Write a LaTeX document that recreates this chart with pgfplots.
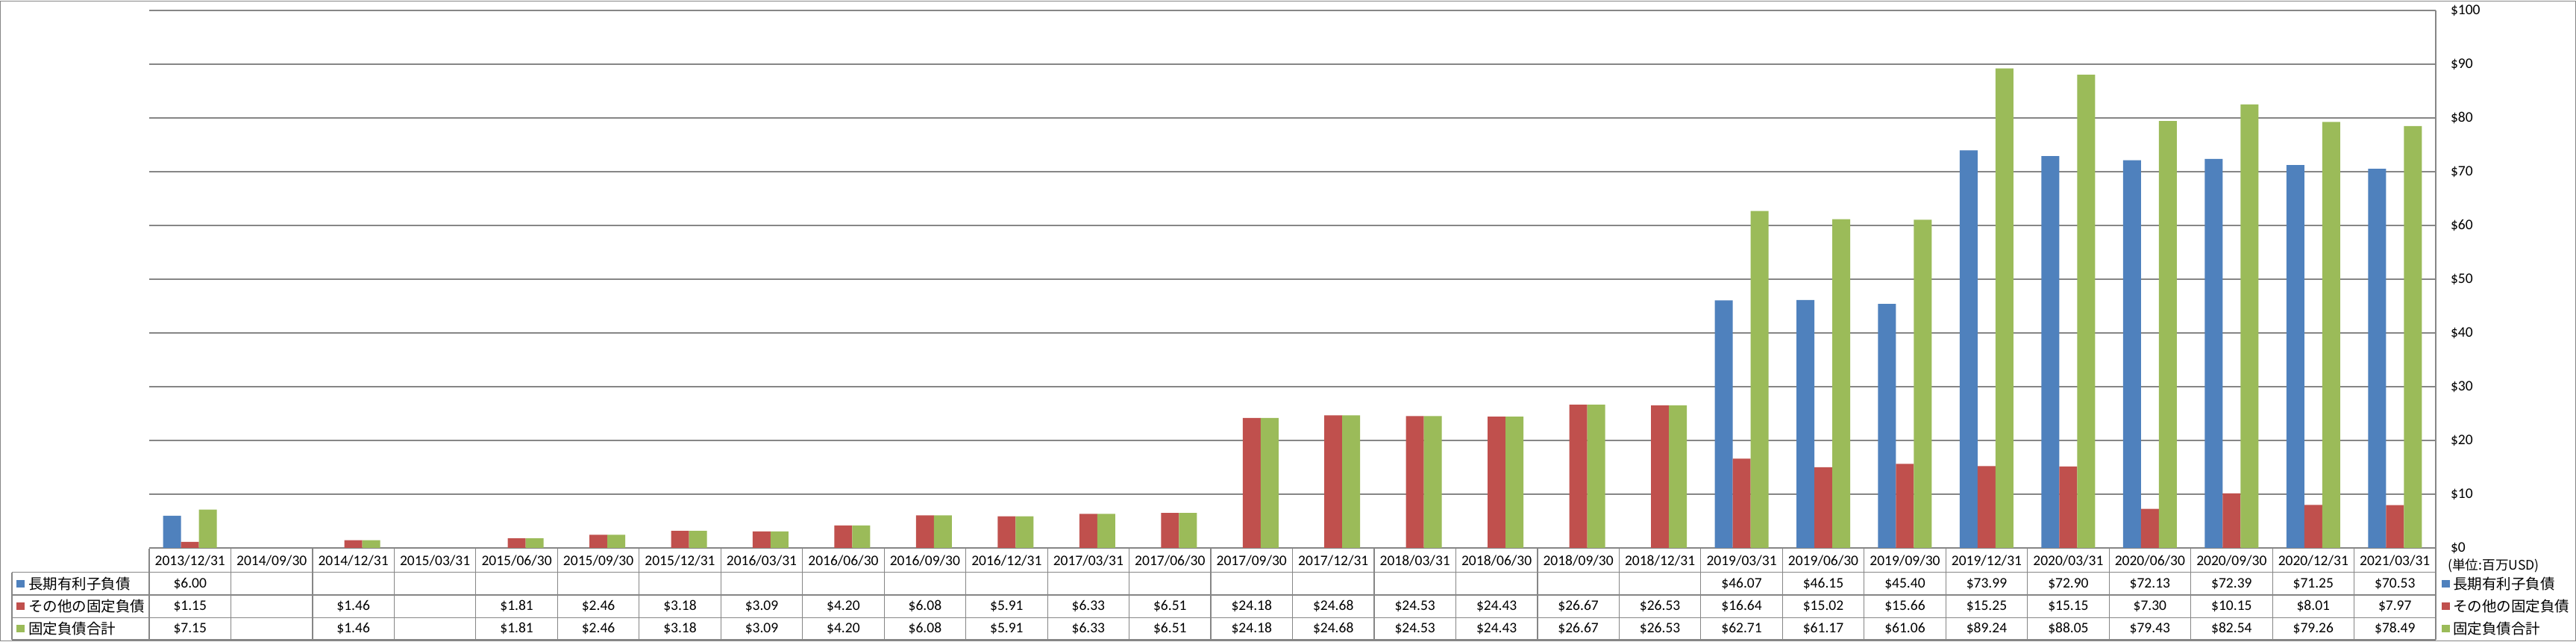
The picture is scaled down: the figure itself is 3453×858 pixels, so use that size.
\documentclass[border=0pt]{standalone}
\usepackage{fontspec}
\setmainfont{Carlito}
\newfontfamily\jp{Noto Sans CJK JP}
\usepackage{pgfplots}
\usepackage{pgfplotstable}
\pgfplotsset{compat=1.18}
\definecolor{cA}{HTML}{4F81BD}
\definecolor{cB}{HTML}{C0504D}
\definecolor{cC}{HTML}{9BBB59}
\definecolor{gl}{HTML}{868686}
\newcommand\fs{\fontsize{9.75pt}{11pt}\selectfont}

% 長期有利子負債
\pgfplotstableread{
x y
0 6.00
19 46.07
20 46.15
21 45.40
22 73.99
23 72.90
24 72.13
25 72.39
26 71.25
27 70.53
}\seriesA
% その他の固定負債
\pgfplotstableread{
x y
0 1.15
2 1.46
4 1.81
5 2.46
6 3.18
7 3.09
8 4.20
9 6.08
10 5.91
11 6.33
12 6.51
13 24.18
14 24.68
15 24.53
16 24.43
17 26.67
18 26.53
19 16.64
20 15.02
21 15.66
22 15.25
23 15.15
24 7.30
25 10.15
26 8.01
27 7.97
}\seriesB
% 固定負債合計
\pgfplotstableread{
x y
0 7.15
2 1.46
4 1.81
5 2.46
6 3.18
7 3.09
8 4.20
9 6.08
10 5.91
11 6.33
12 6.51
13 24.18
14 24.68
15 24.53
16 24.43
17 26.67
18 26.53
19 62.71
20 61.17
21 61.06
22 89.24
23 88.05
24 79.43
25 82.54
26 79.26
27 78.49
}\seriesC

\pgfplotsset{
  tablerow/.style={only marks, mark=*, mark size=0pt, mark options={draw=none,fill=none},
    point meta=explicit,
    nodes near coords={\$\pgfmathprintnumber[fixed,fixed zerofill,precision=2,assume math mode=true]{\pgfplotspointmeta}},
    nodes near coords align={anchor=center},
    every node near coord/.append style={font=\fs, inner sep=0pt, anchor=center, text=black}},
}

\begin{document}
\begin{tikzpicture}
\begin{scope}[x=0.5pt,y=0.5pt]
\useasboundingbox (0,0) rectangle (3453,858);
\fill[white] (0,0) rectangle (3453,858);
\draw[gl, line width=0.6pt] (0.6,0.6) rectangle (3452.4,857.4);
\end{scope}
\begin{axis}[
  at={(100pt,62.5pt)}, anchor=south west,
  width=1532.5pt, height=360pt, scale only axis,
  xmin=-0.5, xmax=27.5, ymin=0, ymax=100,
  clip=false,
  axis line style={draw=none},
  major tick length=0pt,
  ytick={0,10,...,100},
  yticklabel pos=right,
  yticklabel={\$\pgfmathprintnumber{\tick}},
  yticklabel style={anchor=west, xshift=6.5pt},
  ymajorgrids,
  grid style={gl, line width=0.6pt},
  xtick={0,...,27},
  xticklabels={2013/12/31,2014/09/30,2014/12/31,2015/03/31,2015/06/30,2015/09/30,2015/12/31,2016/03/31,2016/06/30,2016/09/30,2016/12/31,2017/03/31,2017/06/30,2017/09/30,2017/12/31,2018/03/31,2018/06/30,2018/09/30,2018/12/31,2019/03/31,2019/06/30,2019/09/30,2019/12/31,2020/03/31,2020/06/30,2020/09/30,2020/12/31,2021/03/31},
  xticklabel style={anchor=center, yshift=-8.4pt},
  tick label style={font=\fs, text=black},
  /pgf/number format/assume math mode=true,
]
\addplot[ybar, bar width=12pt, bar shift=-12pt, fill=cA, draw=none] table[x=x,y=y] {\seriesA};
\addplot[ybar, bar width=12pt, bar shift=0pt, fill=cB, draw=none] table[x=x,y=y] {\seriesB};
\addplot[ybar, bar width=12pt, bar shift=12pt, fill=cC, draw=none] table[x=x,y=y] {\seriesC};
\addplot[tablerow] table[x=x, y expr=-6.667, meta=y] {\seriesA};
\addplot[tablerow] table[x=x, y expr=-10.833, meta=y] {\seriesB};
\addplot[tablerow] table[x=x, y expr=-15.0, meta=y] {\seriesC};
\end{axis}
\begin{scope}[x=0.5pt,y=0.5pt]
% table grid
\begin{scope}[gl, line width=0.6pt]
\foreach \i in {0,...,27} \draw ({200+\i*109.4643},124.5) -- ({200+\i*109.4643},2);
\draw (3265,845) -- (3265,2);
\draw (200,124.5) -- (3265,124.5);
\draw (16,92.3) -- (3265,92.3);
\draw (16,62) -- (3265,62);
\draw (16,31.7) -- (3265,31.7);
\draw (16,2) -- (3265,2);
\draw (16,92.3) -- (16,2);
\end{scope}
% left row labels
\fill[cA] (22,72) rectangle (32.5,82.5);
\fill[cB] (22,42) rectangle (32.5,52.5);
\fill[cC] (22,12) rectangle (32.5,22.5);
\node[anchor=west, inner sep=0pt, font=\fs\jp] at (38,77) {長期有利子負債};
\node[anchor=west, inner sep=0pt, font=\fs\jp] at (38,47) {その他の固定負債};
\node[anchor=west, inner sep=0pt, font=\fs\jp] at (38,17) {固定負債合計};
% right legend
\node[anchor=west, inner sep=0pt, font=\fontsize{8.8pt}{10pt}\selectfont\jp] at (3281,101) {(単位:百万USD)};
\fill[cA] (3273,72) rectangle (3283.5,82.5);
\fill[cB] (3273,42) rectangle (3283.5,52.5);
\fill[cC] (3273,12) rectangle (3283.5,22.5);
\node[anchor=west, inner sep=0pt, font=\fs\jp] at (3288,77) {長期有利子負債};
\node[anchor=west, inner sep=0pt, font=\fs\jp] at (3288,47) {その他の固定負債};
\node[anchor=west, inner sep=0pt, font=\fs\jp] at (3288,17) {固定負債合計};
\end{scope}
\end{tikzpicture}
\end{document}
